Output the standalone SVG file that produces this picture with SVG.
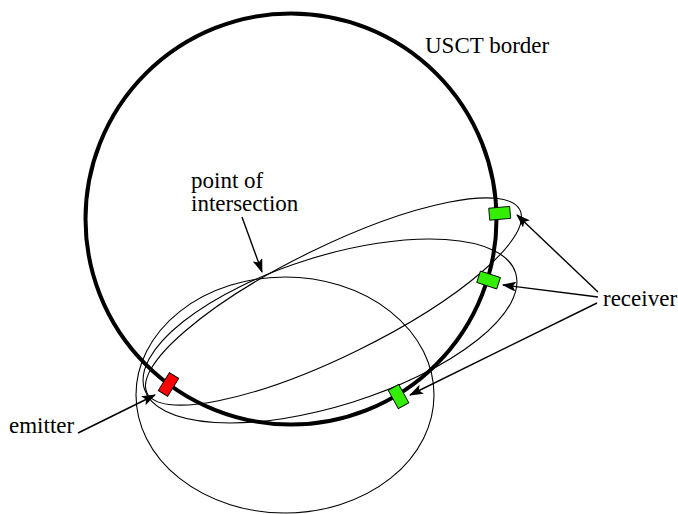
<svg xmlns="http://www.w3.org/2000/svg" width="678" height="514" viewBox="0 0 678 514">
<style>
.ell{fill:none;stroke:#000;stroke-width:1.1}
.border{fill:none;stroke:#000;stroke-width:4}
.rx{stroke:#000;stroke-width:0.9}
.green{fill:#33ee00}
.red{fill:#ff0000}
.arr{stroke:#000;stroke-width:1.4;fill:none;marker-end:url(#ah)}
</style>
<defs>
<marker id="ah" viewBox="0 0 14 10" refX="13" refY="5" markerWidth="14" markerHeight="10" markerUnits="userSpaceOnUse" orient="auto">
<path d="M0,0 L14,5 L0,10 L3,5 Z" fill="#000"/>
</marker>
</defs>
<g id="ellipses">
<ellipse id="ellipse1" class="ell" cx="333.5" cy="301.5" rx="207.7" ry="54.5" transform="rotate(-26.1 333.5 301.5)"/>
<ellipse id="ellipse2" class="ell" cx="330" cy="331" rx="194.5" ry="74.7" transform="rotate(-17.4 330 331)"/>
<ellipse id="ellipse3" class="ell" cx="285" cy="395" rx="149" ry="118"/>
</g>
<g font-family="Liberation Serif, Times New Roman, DejaVu Serif, serif" font-size="23" fill="#000">
<g id="usct-border">
<circle class="border" cx="291" cy="219" r="205.5"/>
<text x="425" y="53">USCT border</text>
</g>
<g id="emitter">
<rect class="rx red" x="-10.5" y="-5.5" width="21" height="11" transform="translate(168.5 384.5) rotate(122)"/>
<text x="9" y="433">emitter</text>
</g>
<g id="receiver1">
<rect class="rx green" x="-10.5" y="-6" width="21" height="12" transform="translate(499.7 213.3) rotate(-5)"/>
</g>
<g id="receiver2">
<rect class="rx green" x="-10.5" y="-6" width="21" height="12" transform="translate(488.6 280) rotate(18)"/>
</g>
<g id="receiver3">
<rect class="rx green" x="-10.5" y="-6" width="21" height="12" transform="translate(398.5 396.5) rotate(61)"/>
</g>
<g id="receiver-label">
<text x="603" y="306">receiver</text>
</g>
<g id="intersection-label">
<text x="191" y="188">point of</text>
<text x="191" y="211">intersection</text>
</g>
</g>
<g id="connectors">
<line class="arr" x1="242" y1="217" x2="262" y2="272"/>
<line class="arr" x1="78" y1="433" x2="155" y2="395"/>
<line class="arr" x1="598" y1="292" x2="517" y2="215"/>
<line class="arr" x1="598" y1="297" x2="503" y2="285"/>
<line class="arr" x1="597" y1="303" x2="410" y2="395"/>
</g>
</svg>
